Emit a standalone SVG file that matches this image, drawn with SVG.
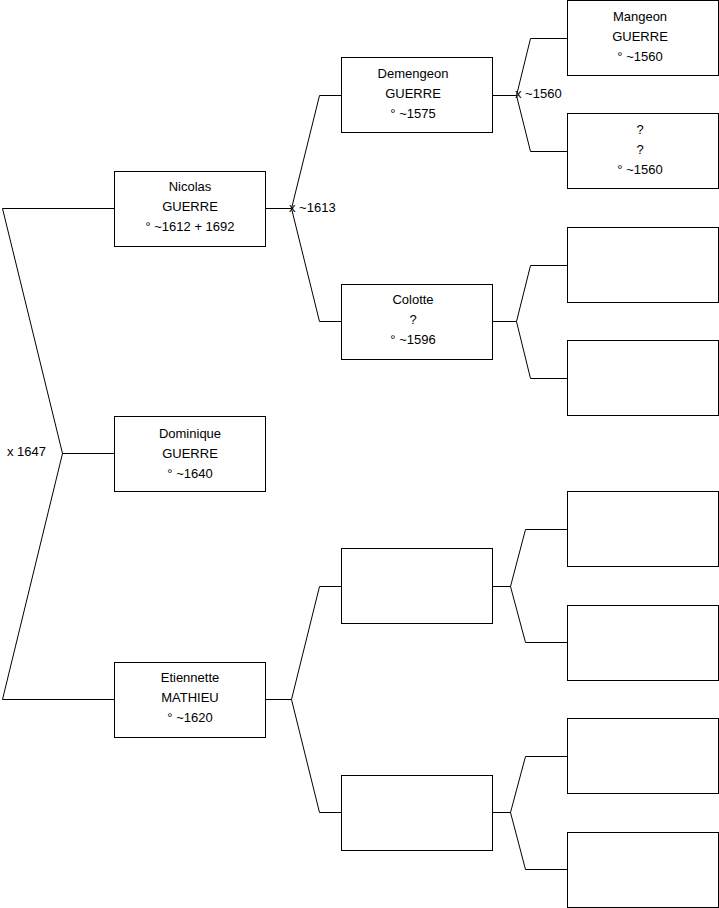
<svg xmlns="http://www.w3.org/2000/svg" width="719" height="908" viewBox="0 0 719 908">
<style>
.box{fill:#fff;stroke:#000;stroke-width:1}
.c{fill:none;stroke:#000;stroke-width:1}
text{font-family:"Liberation Sans",Arial,sans-serif;font-size:13px;fill:#000}
.t{text-anchor:middle}
</style>
<rect width="719" height="908" fill="#fff"/>
<g id="connectors" class="c">
<path d="M114.5,208.5 H2.5 L62.5,453.5 L2.5,699.5 H114.5 M62.5,453.5 H114.5"/>
<path d="M265.5,208.5 H291.5 M341.5,95.5 H319.5 L291.5,208.5 L319.5,321.5 H341.5"/>
<path d="M492.5,95.5 H516.5 M567.5,38.5 H530.5 L516.5,95.5 L530.5,151.5 H567.5"/>
<path d="M492.5,321.5 H516.5 M567.5,265.5 H530.5 L516.5,321.5 L530.5,378.5 H567.5"/>
<path d="M265.5,699.5 H291.5 M341.5,586.5 H319.5 L291.5,699.5 L319.5,812.5 H341.5"/>
<path d="M492.5,586.5 H510.5 M567.5,529.5 H525.5 L510.5,586.5 L525.5,642.5 H567.5"/>
<path d="M492.5,812.5 H510.5 M567.5,756.5 H525.5 L510.5,812.5 L525.5,869.5 H567.5"/>
</g>
<g id="labels">
<text x="7" y="456">x 1647</text>
<text x="289" y="212">x ~1613</text>
<text x="515" y="98">x ~1560</text>
</g>
<g id="nicolas"><rect class="box" x="114.5" y="171.5" width="151" height="75"/>
<text class="t" x="190" y="191">Nicolas</text><text class="t" x="190" y="211">GUERRE</text><text class="t" x="190" y="231">° ~1612 + 1692</text></g>
<g id="dominique"><rect class="box" x="114.5" y="416.5" width="151" height="75"/>
<text class="t" x="190" y="438">Dominique</text><text class="t" x="190" y="458">GUERRE</text><text class="t" x="190" y="478">° ~1640</text></g>
<g id="etiennette"><rect class="box" x="114.5" y="662.5" width="151" height="75"/>
<text class="t" x="190" y="682">Etiennette</text><text class="t" x="190" y="702">MATHIEU</text><text class="t" x="190" y="722">° ~1620</text></g>
<g id="demengeon"><rect class="box" x="341.5" y="57.5" width="151" height="75"/>
<text class="t" x="413" y="78">Demengeon</text><text class="t" x="413" y="98">GUERRE</text><text class="t" x="413" y="118">° ~1575</text></g>
<g id="colotte"><rect class="box" x="341.5" y="284.5" width="151" height="75"/>
<text class="t" x="413" y="304">Colotte</text><text class="t" x="413" y="324">?</text><text class="t" x="413" y="344">° ~1596</text></g>
<g id="mangeon"><rect class="box" x="567.5" y="0.5" width="151" height="75"/>
<text class="t" x="640" y="21">Mangeon</text><text class="t" x="640" y="41">GUERRE</text><text class="t" x="640" y="61">° ~1560</text></g>
<g id="unknown"><rect class="box" x="567.5" y="113.5" width="151" height="75"/>
<text class="t" x="640" y="134">?</text><text class="t" x="640" y="154">?</text><text class="t" x="640" y="174">° ~1560</text></g>
<g id="p3"><rect class="box" x="567.5" y="227.5" width="151" height="75"/></g>
<g id="p4"><rect class="box" x="567.5" y="340.5" width="151" height="75"/></g>
<g id="p5"><rect class="box" x="341.5" y="548.5" width="151" height="75"/></g>
<g id="p6"><rect class="box" x="341.5" y="775.5" width="151" height="75"/></g>
<g id="p7"><rect class="box" x="567.5" y="491.5" width="151" height="75"/></g>
<g id="p8"><rect class="box" x="567.5" y="605.5" width="151" height="75"/></g>
<g id="p9"><rect class="box" x="567.5" y="718.5" width="151" height="75"/></g>
<g id="p10"><rect class="box" x="567.5" y="832.5" width="151" height="75"/></g>
</svg>
